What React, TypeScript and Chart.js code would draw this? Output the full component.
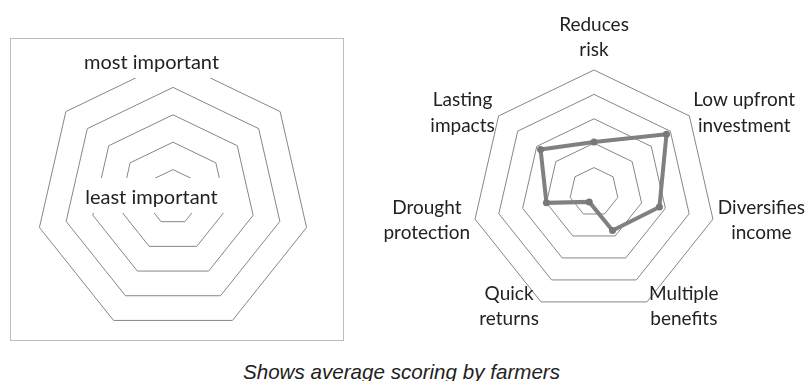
import React, { useEffect, useRef } from "react";
import { Chart, registerables } from "chart.js";

Chart.register(...registerables);

// ---- data ----
const criteria: string[][] = [
  ["Reduces", "risk"],
  ["Low upfront", "investment"],
  ["Diversifies", "income"],
  ["Multiple", "benefits"],
  ["Quick", "returns"],
  ["Drought", "protection"],
  ["Lasting", "impacts"],
];
const averageScores = [2.05, 3.8, 2.75, 1.75, 0.45, 2.0, 2.8];
const scaleMin = 0;
const scaleMax = 5;
const scaleStep = 1;
const guideAxes = ["", "", "", "", "", "", ""];
const guideLabels = ["most important", "least important"];
const caption = "Shows average scoring by farmers";

const GRID = "#868686";
const TEXT = "#222222";

const rightLabelPlugin = {
  id: "rightLabels",
  afterDraw(chart: any) {
    const scale = chart.scales.r;
    const ctx = chart.ctx as CanvasRenderingContext2D;
    ctx.save();
    ctx.font = "19px Lato";
    ctx.fillStyle = TEXT;
    ctx.textBaseline = "middle";
    ctx.textAlign = "center";
    const lh = 25.5;
    (chart.data.labels as any[]).forEach((lab, i) => {
      const lines: string[] = Array.isArray(lab) ? lab : [lab];
      const bw = Math.max(...lines.map((l) => ctx.measureText(l).width));
      const v = scale.getPointPosition(i, scale.drawingArea);
      const a = scale.getPointPosition(i, scale.drawingArea + 5);
      const dx = v.x - scale.xCenter;
      let left: number;
      let midY: number;
      if (Math.abs(dx) < 1) {
        left = v.x - bw / 2;
        midY = v.y - 20 - ((lines.length - 1) * lh) / 2;
      } else if (dx > 0) {
        left = a.x;
        midY = a.y;
      } else {
        left = a.x - bw;
        midY = a.y;
      }
      lines.forEach((l, j) => {
        const y = midY + (j - (lines.length - 1) / 2) * lh;
        ctx.fillText(l, left + bw / 2, y);
      });
    });
    ctx.restore();
  },
};

const leftLabelPlugin = {
  id: "leftLabels",
  afterDraw(chart: any) {
    const scale = chart.scales.r;
    const ctx = chart.ctx as CanvasRenderingContext2D;
    const top = scale.getPointPosition(0, scale.drawingArea);
    const cx = scale.xCenter - 21.5;
    ctx.save();
    ctx.font = "20px Lato";
    ctx.textBaseline = "middle";
    ctx.textAlign = "center";
    const items = [
      { text: guideLabels[0], y: top.y + 3, box: [-75, -16, 149, 31] },
      { text: guideLabels[1], y: scale.yCenter + 1, box: [-75, -20, 153, 35] },
    ];
    items.forEach((it) => {
      ctx.fillStyle = "#ffffff";
      ctx.fillRect(cx + it.box[0], it.y + it.box[1], it.box[2], it.box[3]);
      ctx.fillStyle = TEXT;
      ctx.fillText(it.text, cx, it.y);
    });
    ctx.restore();
  },
};

function radialScale() {
  return {
    r: {
      min: scaleMin,
      max: scaleMax,
      ticks: { display: false, stepSize: scaleStep },
      grid: { color: GRID, lineWidth: 1 },
      angleLines: { display: false },
      pointLabels: { display: false },
    },
  };
}

export default function App() {
  const leftRef = useRef<HTMLCanvasElement>(null);
  const rightRef = useRef<HTMLCanvasElement>(null);

  useEffect(() => {
    const left = new Chart(leftRef.current!, {
      type: "radar",
      data: { labels: guideAxes, datasets: [] },
      options: {
        responsive: false,
        animation: false,
        layout: { padding: { left: 36, right: 50, top: 60, bottom: 11 } },
        plugins: { legend: { display: false }, tooltip: { enabled: false } },
        scales: radialScale() as any,
      },
      plugins: [leftLabelPlugin],
    });
    const right = new Chart(rightRef.current!, {
      type: "radar",
      data: {
        labels: criteria as any,
        datasets: [
          {
            data: averageScores,
            borderColor: "#808080",
            backgroundColor: "#808080",
            borderWidth: 4,
            pointRadius: 3.5,
            pointBackgroundColor: "#777777",
            pointBorderWidth: 0,
            fill: false,
          },
        ],
      },
      options: {
        responsive: false,
        animation: false,
        layout: { padding: { left: 102, right: 94, top: 70, bottom: 31 } },
        plugins: { legend: { display: false }, tooltip: { enabled: false } },
        scales: radialScale() as any,
      },
      plugins: [rightLabelPlugin],
    });
    return () => {
      left.destroy();
      right.destroy();
    };
  }, []);

  return (
    <div
      style={{
        position: "absolute",
        left: 0,
        top: 0,
        width: 810,
        height: 381,
        background: "#fff",
        overflow: "hidden",
      }}
    >
      <div
        style={{
          position: "absolute",
          left: 10,
          top: 38,
          width: 334,
          height: 303,
          boxSizing: "border-box",
          border: "1px solid #bdbdbd",
        }}
      />
      <canvas
        ref={leftRef}
        width={360}
        height={345}
        style={{ position: "absolute", left: 0, top: 0, width: 360, height: 345 }}
      />
      <canvas
        ref={rightRef}
        width={440}
        height={345}
        style={{ position: "absolute", left: 370, top: 0, width: 440, height: 345 }}
      />
      <div
        style={{
          position: "absolute",
          left: 0,
          top: 362,
          width: 803,
          textAlign: "center",
          font: 'italic 20.6px "Liberation Sans", Arial, sans-serif',
          lineHeight: "20px",
          color: "#222",
          whiteSpace: "nowrap",
        }}
      >
        {caption}
      </div>
    </div>
  );
}
